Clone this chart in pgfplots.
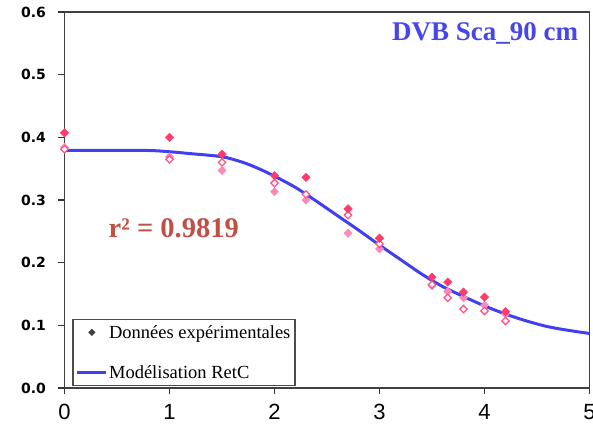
\documentclass[border=0pt]{standalone}
\usepackage{pgfplots}
\pgfplotsset{compat=1.18}
\usepackage{fontspec}
\setmainfont{Liberation Serif}
\newfontfamily\dejav{DejaVu Sans}
\newfontfamily\arialf{Liberation Sans}
\definecolor{ptdark}{RGB}{255,60,105}
\definecolor{ptlight}{RGB}{255,135,185}
\definecolor{ptopen}{RGB}{255,85,135}
\definecolor{curveblue}{RGB}{64,64,240}
\definecolor{titleblue}{RGB}{70,70,235}
\definecolor{rred}{RGB}{192,80,70}
\begin{document}
\begin{tikzpicture}
\path[use as bounding box] (-64.5pt,-57pt) rectangle (528.5pt,388pt);
\begin{axis}[
  scale only axis, width=525pt, height=376pt,
  at={(0pt,0pt)}, anchor=south west,
  xmin=0, xmax=5, ymin=0, ymax=0.6,
  xtick={0,1,2,3,4,5}, ytick={0,0.1,0.2,0.3,0.4,0.5,0.6},
  xtick pos=bottom, ytick pos=left, tick align=outside,
  major tick length=6pt,
  tick style={draw=black!80, line width=1.1pt},
  axis line style={draw=black!75, line width=1.2pt},
  /pgf/number format/assume math mode=true,
  yticklabel style={font=\dejav\bfseries\fontsize{14}{14}\selectfont, /pgf/number format/fixed, /pgf/number format/fixed zerofill, /pgf/number format/precision=1, xshift=-9pt},
  xticklabel style={font=\arialf\fontsize{22}{22}\selectfont, yshift=-7pt},
  legend cell align=left,
  legend style={at={(0.0152,0.0053)}, anchor=south west, draw=black!70, line width=1.2pt,
    font=\fontsize{18.5}{18.5}\selectfont, row sep=23pt, inner xsep=3pt, inner ysep=4pt,
    nodes={inner sep=1.5pt}},
  clip=false
]
\addlegendimage{legend image code/.code={\fill[black!75] (14.5pt,2.8pt)--(17.3pt,0pt)--(14.5pt,-2.8pt)--(11.7pt,0pt)--cycle;}}
\addlegendentry{Données expérimentales}
\addlegendimage{legend image code/.code={\draw[curveblue, line width=2.5pt] (0pt,0pt)--(29pt,0pt);}}
\addlegendentry{Modélisation RetC}

\addplot[curveblue, line width=3pt, smooth, forget plot] coordinates {
(0,0.379) (0.4,0.379) (0.8,0.379) (1.0,0.377) (1.2,0.374) (1.5,0.369) (1.7,0.360) (1.85,0.350) (2.0,0.338) (2.2,0.320) (2.4,0.298) (2.6,0.275) (2.8,0.252) (3.0,0.228) (3.2,0.205) (3.4,0.182) (3.6,0.162) (3.8,0.146) (4.0,0.131) (4.2,0.118) (4.4,0.107) (4.6,0.098) (4.8,0.092) (5.0,0.087)};

\addplot[only marks, mark=square*, mark size=2.9pt, mark options={rotate=45, fill=ptlight, draw=ptlight}, forget plot] coordinates {
(0,0.384) (1,0.369) (1.5,0.347) (2,0.313) (2.3,0.300) (2.7,0.247) (3,0.222) (3.5,0.163) (3.65,0.154) (3.8,0.144) (4,0.132) (4.2,0.118)};

\addplot[only marks, mark=square*, mark size=2.6pt, mark options={rotate=45, fill=white, draw=ptopen, line width=1.3pt}, forget plot] coordinates {
(0,0.381) (1,0.365) (1.5,0.360) (2,0.327) (2.3,0.309) (2.7,0.276) (3,0.230) (3.5,0.165) (3.65,0.144) (3.8,0.126) (4,0.123) (4.2,0.107)};

\addplot[only marks, mark=square*, mark size=3pt, mark options={rotate=45, fill=ptdark, draw=ptdark}, forget plot] coordinates {
(0,0.407) (1,0.400) (1.5,0.373) (2,0.339) (2.3,0.336) (2.7,0.286) (3,0.239) (3.5,0.177) (3.65,0.169) (3.8,0.153) (4,0.145) (4.2,0.122)};

\node[font=\bfseries\fontsize{27}{27}\selectfont, text=titleblue, anchor=center] at (axis cs:4.005,0.5657) {DVB Sca\_90 cm};
\node[font=\bfseries\fontsize{28.5}{28.5}\selectfont, text=rred, anchor=west, inner sep=0pt] at (axis cs:0.419,0.255) {r² = 0.9819};
\end{axis}
\end{tikzpicture}
\end{document}
